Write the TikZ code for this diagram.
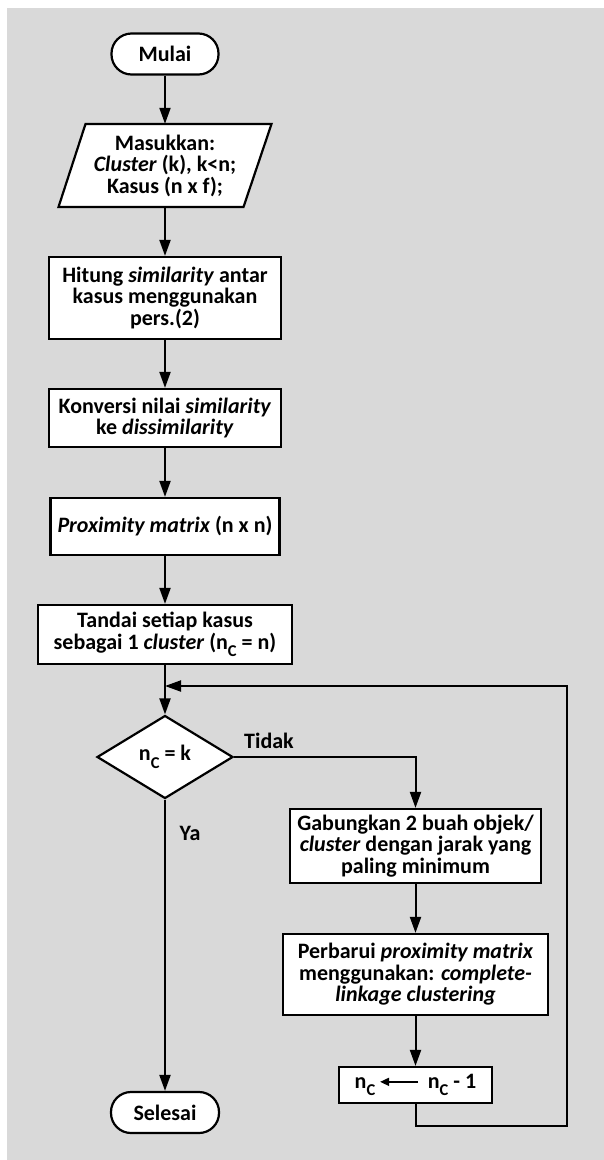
\documentclass[tikz,border=0pt]{standalone}
\usepackage{fontspec}
\setmainfont{Carlito}
\usetikzlibrary{arrows.meta,shapes.geometric,calc}
\definecolor{bggray}{RGB}{217,217,217}
\newcommand{\ncsub}{n\raisebox{-7.5pt}{\fontsize{16.5}{16.5}\selectfont C}}
\newcommand{\lftarrow}{\tikz[baseline=-6.5pt]\draw[line width=1.6pt,-{Triangle[length=9pt,width=8pt]}](38pt,0pt)--(0pt,0pt);}
\begin{document}
\begin{tikzpicture}[x=1pt,y=-1pt,
  txt/.style={font=\bfseries\fontsize{22}{21.5}\selectfont, align=center, inner sep=0pt},
  box/.style={txt, draw, fill=white, line width=2.2pt},
  term/.style={box, rounded corners=20pt},
  conn/.style={line width=2pt, -{Triangle[length=16pt,width=11pt]}},
  plain/.style={line width=2pt}]
\useasboundingbox (0,0) rectangle (604,1160);
\fill[white] (0,0) rectangle (604,1160);
\fill[bggray] (7,8) rectangle (604,1160);

% start
\node[term, minimum width=107pt, minimum height=41pt] (start) at (165,54) {Mulai};

% input parallelogram
\draw[line width=2.2pt, fill=white] (85.5,124) -- (271.5,124) -- (243.5,207) -- (58.5,207) -- cycle;
\node[txt, minimum height=83pt] (inp) at (165,165.5) {Masukkan:\\\textit{Cluster} (k), k<n;\\Kasus (n x f);};

\node[box, minimum width=232pt, minimum height=82pt] (hit) at (165,298) {Hitung \textit{similarity} antar\\kasus menggunakan\\pers.(2)};
\node[box, minimum width=232pt, minimum height=58pt] (konv) at (165,418) {Konversi nilai \textit{similarity}\\ke \textit{dissimilarity}};
\node[box, minimum width=229pt, minimum height=57pt] (prox) at (165,526.5) {\textit{Proximity matrix} (n x n)};
\node[box, minimum width=254pt, minimum height=59pt] (tand) at (165,634.5) {Tandai setiap kasus\\sebagai 1 \textit{cluster} (\ncsub{} = n)};

\node[txt, draw, fill=white, line width=2.2pt, shape=diamond, aspect=1.64, minimum width=136pt, minimum height=83pt] (dec) at (165,757) {\ncsub{} = k};

\node[box, minimum width=251pt, minimum height=74pt] (gab) at (415.5,846) {Gabungkan 2 buah objek/\\\textit{cluster} dengan jarak yang\\paling minimum};
\node[box, minimum width=265pt, minimum height=81pt] (perb) at (415.5,974.5) {Perbarui \textit{proximity matrix}\\menggunakan: \textit{complete-}\\\textit{linkage clustering}};
\node[box, minimum width=153pt, minimum height=36pt] (nc) at (415.5,1085) {\ncsub\hspace{4pt}\lftarrow\hspace{9pt}\ncsub{} - 1};

\node[term, minimum width=108pt, minimum height=41pt] (end) at (165,1112.5) {Selesai};

\node[txt] (tidak) at (269,741) {Tidak};
\node[txt] (ya) at (190,833) {Ya};

\coordinate (rb) at (567,1126);
\coordinate (jn) at (165,686);

\draw[conn] (start) -- (inp);
\draw[conn] (inp) -- (hit);
\draw[conn] (hit) -- (konv);
\draw[conn] (konv) -- (prox);
\draw[conn] (prox) -- (tand);
\draw[conn] (tand) -- (dec);
\draw[conn] (dec.east) -| (gab.north);
\draw[conn] (gab) -- (perb);
\draw[conn] (perb) -- (nc);
\draw[conn] (dec.south) -- (end.north);
\draw[conn] (nc.south) |- (rb) |- (jn);
\end{tikzpicture}
\end{document}
